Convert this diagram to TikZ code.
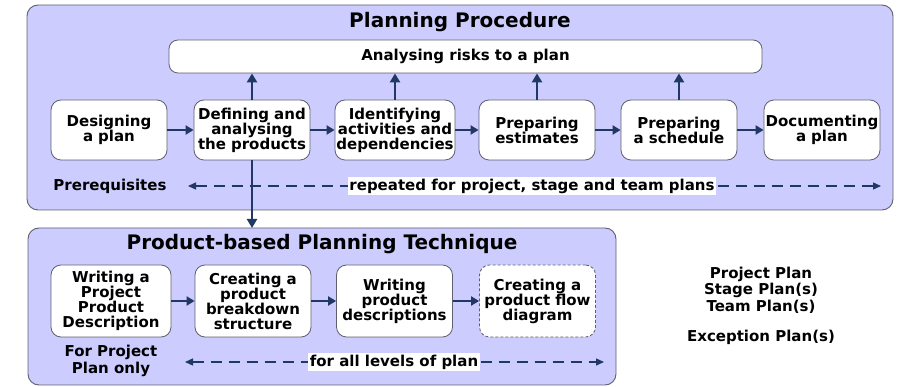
\documentclass[tikz,border=0pt]{standalone}
\usepackage{fontspec}
\setmainfont{DejaVu Sans}
\usetikzlibrary{arrows.meta}
\definecolor{lav}{RGB}{204,204,255}
\definecolor{navy}{RGB}{31,56,100}
\definecolor{edge}{RGB}{95,95,110}
\tikzset{
  panel/.style={draw=edge, line width=0.9pt, fill=lav, rounded corners=11pt},
  stepbox/.style={draw=edge, line width=0.8pt, fill=white, rounded corners=10pt,
    minimum height=60pt, text width=116pt, align=center, inner sep=0pt,
    font=\fontsize{15}{15}\selectfont\bfseries},
  lowbox/.style={stepbox, minimum height=72pt},
  txt/.style={font=\fontsize{15}{16.5}\selectfont\bfseries, align=center, inner sep=1pt},
  ttl/.style={font=\fontsize{20}{22}\selectfont\bfseries, inner sep=0pt},
  flow/.style={draw=navy, line width=2pt, -{Triangle[length=8pt,width=9pt]}},
  upflow/.style={draw=navy, line width=2.4pt, -{Triangle[length=9pt,width=10pt]}},
  dasharrow/.style={draw=navy, line width=1.3pt, dash pattern=on 11pt off 7pt,
    {Triangle[length=8pt,width=7pt]}-{Triangle[length=8pt,width=7pt]}},
}
\begin{document}
\begin{tikzpicture}[x=1pt,y=-1pt]
\useasboundingbox (0,0) rectangle (906,387);
% panels
\draw[panel] (27,5) rectangle (893,210);
\draw[panel] (28,228) rectangle (616,385);
\node[ttl] (t1) at (460,22) {Planning Procedure};
\node[ttl] (t2) at (322,244) {Product-based Planning Technique};
% risk box
\node[draw=edge, line width=0.8pt, fill=white, rounded corners=9pt, minimum width=593pt,
  minimum height=33pt, inner sep=0pt, font=\fontsize{15}{15}\selectfont\bfseries]
  (risk) at (465.5,56.5) {Analysing risks to a plan};
% top row
\node[stepbox] (des) at (109,130) {Designing\\a plan};
\node[stepbox] (def) at (252,130) {Defining and\\analysing\\the products};
\node[stepbox, text width=120pt] (ide) at (395,130) {Identifying\\activities and\\dependencies};
\node[stepbox] (est) at (537,130) {Preparing\\estimates};
\node[stepbox] (sch) at (679,130) {Preparing\\a schedule};
\node[stepbox] (doc) at (822,130) {Documenting\\a plan};
\draw[flow] (des) -- (def);
\draw[flow] (def) -- (ide);
\draw[flow] (ide) -- (est);
\draw[flow] (est) -- (sch);
\draw[flow] (sch) -- (doc);
\foreach \n in {def,ide,est,sch}
  \draw[upflow] (\n.north) -- (\n.north |- risk.south);
% prerequisites line
\node[txt] (pre) at (110,186) {Prerequisites};
\coordinate (pl) at (188,186);
\coordinate (pr) at (881,186);
\draw[dasharrow] (pl) -- (pr);
\node[txt, fill=white, inner sep=1.5pt] (rep) at (532,186) {repeated for project, stage and team plans};
% bottom row
\node[lowbox, text width=120pt] (ppd) at (111,301) {Writing a\\Project\\Product\\Description};
\node[lowbox] (pbs) at (253,301) {Creating a\\product\\breakdown\\structure};
\node[lowbox] (wpd) at (394.5,301) {Writing\\product\\descriptions};
\node[lowbox, dashed, dash pattern=on 3pt off 2pt] (pfd) at (537.5,301) {Creating a\\product flow\\diagram};
\draw[flow] (ppd) -- (pbs);
\draw[flow] (pbs) -- (wpd);
\draw[flow] (wpd) -- (pfd);
\draw[upflow] (def.south) -- (def.south |- 0,228);
% bottom dashed
\node[txt] (fpp) at (111,361) {For Project\\Plan only};
\coordinate (bl) at (185,362);
\coordinate (br) at (604,362);
\draw[dasharrow] (bl) -- (br);
\node[txt, fill=white, inner sep=1.5pt] (all) at (394,362) {for all levels of plan};
% right side
\node[txt] (plans) at (761,290) {Project Plan\\Stage Plan(s)\\Team Plan(s)};
\node[txt] (exc) at (761,337) {Exception Plan(s)};
\end{tikzpicture}
\end{document}
